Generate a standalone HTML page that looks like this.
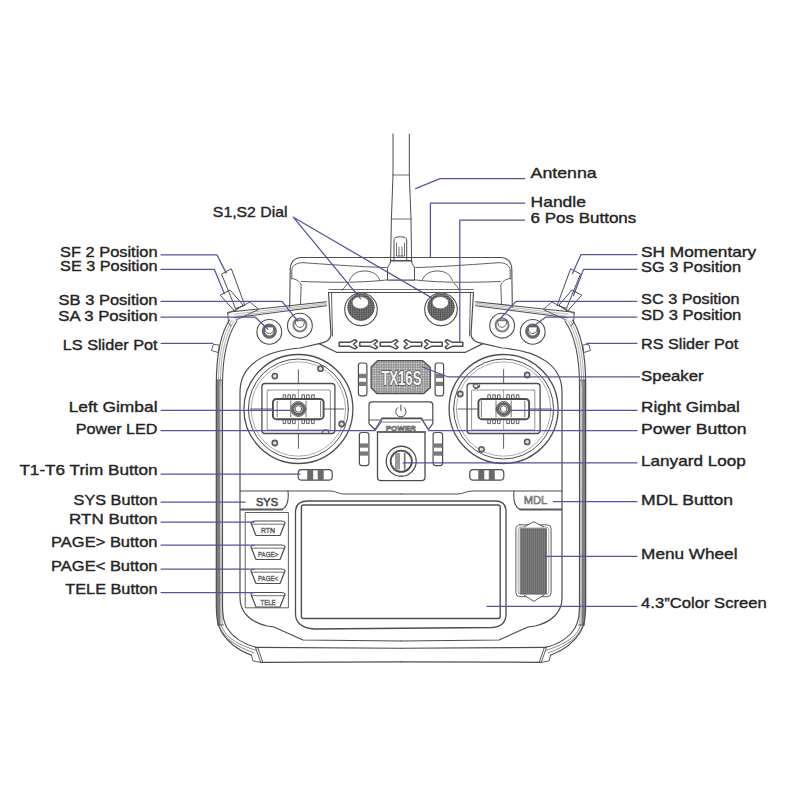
<!DOCTYPE html>
<html><head><meta charset="utf-8"><style>
html,body{margin:0;padding:0;background:#fff;width:800px;height:800px;overflow:hidden}
svg{display:block}
</style></head><body>
<svg width="800" height="800" viewBox="0 0 800 800" stroke-linejoin="round" stroke-linecap="round">
<defs>
<pattern id="dots" width="2.4" height="2.4" patternUnits="userSpaceOnUse"><rect width="2.4" height="2.4" fill="#8c8c8c"/><circle cx="1.2" cy="1.2" r="0.75" fill="#e0e0e0"/></pattern>
<pattern id="knurl" width="1.8" height="1.8" patternUnits="userSpaceOnUse"><rect width="1.8" height="1.8" fill="#555"/><rect width="0.8" height="0.8" fill="#aaa"/></pattern>
<pattern id="knurl2" width="2" height="2" patternUnits="userSpaceOnUse"><rect width="2" height="2" fill="#6a6a6a"/><rect width="0.6" height="2" fill="#8a8a8a"/></pattern>
<pattern id="strip" width="2" height="2" patternUnits="userSpaceOnUse"><rect width="2" height="2" fill="#6f6f6f"/><rect width="1" height="1" fill="#aaa"/></pattern>
</defs>
<rect width="800" height="800" fill="#fff"/>
<g><path d="M216.3,380 L222.5,380 L223.2,625 L217.4,625 L216.3,605 Z" fill="#c8c8c8" stroke="none"/><path d="M216.3,380 L219.6,380 L220.3,625 L217.4,625 L216.3,605 Z" fill="#7c7c7c" stroke="none"/><path d="M216.5,380 L222.5,380 M217.4,625 L223.4,625" fill="none" stroke="#4d4d4d" stroke-width="0.9" /><path d="M229.5,320 C221,333 216.3,352 216.3,385 L216.3,605 C216.5,620 218,625 221,631 C228,643 240,651 251.5,655.3" fill="none" stroke="#4d4d4d" stroke-width="1.2" /><path d="M231.8,320.5 C223.5,334 218.4,353 218.4,385" fill="none" stroke="#8a8a8a" stroke-width="0.7" /><path d="M234,321 C225.5,335 220.4,354 220.4,385" fill="none" stroke="#8a8a8a" stroke-width="0.7" /><path d="M237,321 C227.5,335 222.5,354 222.5,385 L222.5,605 C222.8,618 224,622 227,628 C234,639 245,645 258.4,647.8" fill="none" stroke="#4d4d4d" stroke-width="1.1" /><path d="M219.3,625 C221.5,633 229,644 253.8,652.8" fill="none" stroke="#6a6a6a" stroke-width="0.8" /><path d="M221.3,625 C224,634 232,643 256.1,650.3" fill="none" stroke="#6a6a6a" stroke-width="0.8" /><path d="M255.5,647.4 L401,648.3" fill="none" stroke="#4d4d4d" stroke-width="1.1" /><path d="M260.7,662.3 L401,661.8" fill="none" stroke="#4d4d4d" stroke-width="1.2" /><path d="M255.5,647.4 L260.7,662.3 M257.6,647.4 L262.8,662.3 M251.5,655.3 L252.9,661 L260.7,662.3" fill="none" stroke="#4d4d4d" stroke-width="0.9" /><path d="M227.7,312.3 L326.5,301.7" fill="none" stroke="#4d4d4d" stroke-width="1.1" /><path d="M234.3,317.8 L326.5,305.8" fill="none" stroke="#4d4d4d" stroke-width="1.1" /><path d="M234,314.2 L326.5,303.1 M236,316.0 L326.5,304.5" fill="none" stroke="#8a8a8a" stroke-width="0.6" /><path d="M227.7,312.7 L228.5,323 L231,326" fill="none" stroke="#4d4d4d" stroke-width="0.9" /><path d="M401,641 L303,640 L274,627 L267,626 C250,622 240,612 240,598 L240,392 C240,366 262,351 300,348 L319,343.6 C326,342.5 331,339.5 331,334 L328.5,292.5" fill="none" stroke="#4d4d4d" stroke-width="1.2" /><path d="M332.5,336 L331.5,293" fill="none" stroke="#4d4d4d" stroke-width="0.9" /><path d="M319,343.6 L336.5,352.3 L401,352.3" fill="none" stroke="#4d4d4d" stroke-width="1.2" /><path d="M328.5,292.5 L401,292.5" fill="none" stroke="#4d4d4d" stroke-width="1.1" /><path d="M329,289.5 L401,289.5" fill="none" stroke="#4d4d4d" stroke-width="0.8" /><path d="M401,257.5 L301.5,257.5 C295,257.5 290.2,262 290.2,269.5 L289.7,307" fill="none" stroke="#4d4d4d" stroke-width="1.1" /><path d="M291.8,279 L291.8,270 C292,266 296,262.7 303,262.7 C330,264.5 360,267 401,268" fill="none" stroke="#4d4d4d" stroke-width="0.9" /><path d="M291.8,278.5 C296.5,279 300,281.5 301.2,285 L300.5,304" fill="none" stroke="#4d4d4d" stroke-width="0.9" /><path d="M301.5,281.5 C330,282.5 360,283 386,280 L401,280" fill="none" stroke="#4d4d4d" stroke-width="0.9" /><path d="M349.5,280.5 C352,273.5 358,271 364.5,271 C371,271 377,273.5 379.5,279.5" fill="none" stroke="#4d4d4d" stroke-width="0.9" /><path d="M342,290.5 L348,283" fill="none" stroke="#4d4d4d" stroke-width="0.8" /><circle cx="269.30" cy="331.90" r="12.4" fill="none" stroke="#4d4d4d" stroke-width="1.1"/><circle cx="269.3" cy="331.09999999999997" r="6" fill="none" stroke="#6a6a6a" stroke-width="3.2"/><path d="M264.8,326.9 L273.8,326.9 L273.3,330.9 C272.3,334.4 266.3,334.4 265.3,330.9 Z" fill="#fff" stroke="#4d4d4d" stroke-width="0.9" /><circle cx="299.90" cy="325.70" r="12.4" fill="none" stroke="#4d4d4d" stroke-width="1.1"/><circle cx="299.9" cy="324.9" r="6.5" fill="none" stroke="#808080" stroke-width="2"/><path d="M295.4,320.7 L304.4,320.7 L303.9,324.7 C302.9,328.2 296.9,328.2 295.9,324.7 Z" fill="#fff" stroke="#4d4d4d" stroke-width="0.9" /><path d="M231,269 L221.5,274 L235.5,308.5 L244.5,305.5 Z" fill="none" stroke="#4d4d4d" stroke-width="1.0" /><path d="M220.6,295 L230,290 L243,305 L235,311 Z" fill="none" stroke="#4d4d4d" stroke-width="1.0" /><path d="M227.5,313.8 L250,302 L258.8,309.4 L236,320" fill="none" stroke="#4d4d4d" stroke-width="0.9" /><path d="M213.75,344.4 L219.4,345 L218.2,352.5 L211.9,350.6 Z" fill="none" stroke="#4d4d4d" stroke-width="0.9" /><rect x="358.40" y="363.00" width="8.50" height="32.80" rx="2.5" fill="none" stroke="#4d4d4d" stroke-width="1.2"/><rect x="359.0" y="373.8" width="7.3" height="4.3" fill="#7a7a7a"/><rect x="359.0" y="381.7" width="7.3" height="4.3" fill="#7a7a7a"/><rect x="359.40" y="432.50" width="9.50" height="33.10" rx="2.5" fill="none" stroke="#4d4d4d" stroke-width="1.2"/><rect x="360.0" y="443.4" width="8.3" height="4.3" fill="#7a7a7a"/><rect x="360.0" y="451.4" width="8.3" height="4.3" fill="#7a7a7a"/><rect x="298.20" y="469.60" width="34.00" height="10.60" rx="3.5" fill="none" stroke="#4d4d4d" stroke-width="1.2"/><rect x="307.2" y="469.6" width="6" height="10.6" fill="#6a6a6a"/><rect x="317.7" y="469.6" width="6" height="10.6" fill="#6a6a6a"/><path d="M339.2,342.3 L349.7,342.3 L355.0,339.7 L357.0,341.3 L353.5,344.3 L357.0,347.3 L355.0,348.9 L349.7,346.3 L339.2,346.3 Z" fill="none" stroke="#4d4d4d" stroke-width="1.5" /><path d="M359.8,342.3 L370.3,342.3 L375.6,339.7 L377.6,341.3 L374.1,344.3 L377.6,347.3 L375.6,348.9 L370.3,346.3 L359.8,346.3 Z" fill="none" stroke="#4d4d4d" stroke-width="1.5" /><path d="M380.2,342.3 L390.7,342.3 L396.0,339.7 L398.0,341.3 L394.5,344.3 L398.0,347.3 L396.0,348.9 L390.7,346.3 L380.2,346.3 Z" fill="none" stroke="#4d4d4d" stroke-width="1.5" /><circle cx="298.40" cy="409.00" r="54.5" fill="none" stroke="#4d4d4d" stroke-width="1.3"/><circle cx="298.40" cy="409.00" r="50" fill="none" stroke="#4d4d4d" stroke-width="1.0"/><circle cx="298.40" cy="409.00" r="47.2" fill="none" stroke="#8a8a8a" stroke-width="0.7"/><rect x="261.90" y="383.50" width="73.00" height="50.00" rx="3" fill="none" stroke="#4d4d4d" stroke-width="1.3"/><rect x="267.20" y="390.00" width="63.20" height="40.00" rx="1" fill="none" stroke="#777" stroke-width="0.8"/><path d="M298.4,390 L298.4,430" fill="none" stroke="#777" stroke-width="0.7" /><path d="M283.09999999999997,399 L283.09999999999997,394.8 L285.7,394.8 L285.7,399" fill="none" stroke="#4d4d4d" stroke-width="0.9" /><path d="M283.09999999999997,419 L283.09999999999997,423.6 L285.7,423.6 L285.7,419" fill="none" stroke="#4d4d4d" stroke-width="0.9" /><path d="M287.9,399 L287.9,394.8 L290.5,394.8 L290.5,399" fill="none" stroke="#4d4d4d" stroke-width="0.9" /><path d="M287.9,419 L287.9,423.6 L290.5,423.6 L290.5,419" fill="none" stroke="#4d4d4d" stroke-width="0.9" /><path d="M292.59999999999997,399 L292.59999999999997,394.8 L295.2,394.8 L295.2,399" fill="none" stroke="#4d4d4d" stroke-width="0.9" /><path d="M292.59999999999997,419 L292.59999999999997,423.6 L295.2,423.6 L295.2,419" fill="none" stroke="#4d4d4d" stroke-width="0.9" /><path d="M301.9,399 L301.9,394.8 L304.5,394.8 L304.5,399" fill="none" stroke="#4d4d4d" stroke-width="0.9" /><path d="M301.9,419 L301.9,423.6 L304.5,423.6 L304.5,419" fill="none" stroke="#4d4d4d" stroke-width="0.9" /><path d="M306.59999999999997,399 L306.59999999999997,394.8 L309.2,394.8 L309.2,399" fill="none" stroke="#4d4d4d" stroke-width="0.9" /><path d="M306.59999999999997,419 L306.59999999999997,423.6 L309.2,423.6 L309.2,419" fill="none" stroke="#4d4d4d" stroke-width="0.9" /><path d="M311.59999999999997,399 L311.59999999999997,394.8 L314.2,394.8 L314.2,399" fill="none" stroke="#4d4d4d" stroke-width="0.9" /><path d="M311.59999999999997,419 L311.59999999999997,423.6 L314.2,423.6 L314.2,419" fill="none" stroke="#4d4d4d" stroke-width="0.9" /><rect x="272.90" y="399.00" width="50.70" height="20.20" rx="3.5" fill="#fff" stroke="#4d4d4d" stroke-width="1.9"/><path d="M277.2,401.2 L277.2,417 M320.59999999999997,401.2 L320.59999999999997,417 M290.79999999999995,401 L290.79999999999995,417 M306.0,401 L306.0,417" fill="none" stroke="#666" stroke-width="0.9" /><circle cx="298.4" cy="409" r="7.4" fill="#fff" stroke="#555" stroke-width="1"/><circle cx="298.4" cy="409" r="5.5" fill="none" stroke="#666" stroke-width="2.8" stroke-dasharray="1.1,0.9"/><circle cx="298.40" cy="409.00" r="3.3" fill="none" stroke="#4d4d4d" stroke-width="0.9"/><path d="M298.4,369.7 L298.4,383.5 M298.4,433.5 L298.4,448.4 M250.59999999999997,409 L261.9,409 M261.9,409 L272.9,409 M323.59999999999997,409 L334.9,409 M334.9,409 L343.9,409" fill="none" stroke="#4d4d4d" stroke-width="0.9" /><path d="M240,491 L288,491 C289,500 286.5,507 282,509.5 L240,509.5" fill="none" stroke="#4d4d4d" stroke-width="1.1" /><path d="M241,509.5 L282,509.5" fill="none" stroke="#5a5a5a" stroke-width="1.8" /><path d="M288,491 L330,491 C336,491 338,494 345,494 L401,494" fill="none" stroke="#4d4d4d" stroke-width="1.0" /></g>
<g transform="translate(802.0,0) scale(-1,1)"><path d="M216.3,380 L222.5,380 L223.2,625 L217.4,625 L216.3,605 Z" fill="#c8c8c8" stroke="none"/><path d="M216.3,380 L219.6,380 L220.3,625 L217.4,625 L216.3,605 Z" fill="#7c7c7c" stroke="none"/><path d="M216.5,380 L222.5,380 M217.4,625 L223.4,625" fill="none" stroke="#4d4d4d" stroke-width="0.9" /><path d="M229.5,320 C221,333 216.3,352 216.3,385 L216.3,605 C216.5,620 218,625 221,631 C228,643 240,651 251.5,655.3" fill="none" stroke="#4d4d4d" stroke-width="1.2" /><path d="M231.8,320.5 C223.5,334 218.4,353 218.4,385" fill="none" stroke="#8a8a8a" stroke-width="0.7" /><path d="M234,321 C225.5,335 220.4,354 220.4,385" fill="none" stroke="#8a8a8a" stroke-width="0.7" /><path d="M237,321 C227.5,335 222.5,354 222.5,385 L222.5,605 C222.8,618 224,622 227,628 C234,639 245,645 258.4,647.8" fill="none" stroke="#4d4d4d" stroke-width="1.1" /><path d="M219.3,625 C221.5,633 229,644 253.8,652.8" fill="none" stroke="#6a6a6a" stroke-width="0.8" /><path d="M221.3,625 C224,634 232,643 256.1,650.3" fill="none" stroke="#6a6a6a" stroke-width="0.8" /><path d="M255.5,647.4 L401,648.3" fill="none" stroke="#4d4d4d" stroke-width="1.1" /><path d="M260.7,662.3 L401,661.8" fill="none" stroke="#4d4d4d" stroke-width="1.2" /><path d="M255.5,647.4 L260.7,662.3 M257.6,647.4 L262.8,662.3 M251.5,655.3 L252.9,661 L260.7,662.3" fill="none" stroke="#4d4d4d" stroke-width="0.9" /><path d="M227.7,312.3 L326.5,301.7" fill="none" stroke="#4d4d4d" stroke-width="1.1" /><path d="M234.3,317.8 L326.5,305.8" fill="none" stroke="#4d4d4d" stroke-width="1.1" /><path d="M234,314.2 L326.5,303.1 M236,316.0 L326.5,304.5" fill="none" stroke="#8a8a8a" stroke-width="0.6" /><path d="M227.7,312.7 L228.5,323 L231,326" fill="none" stroke="#4d4d4d" stroke-width="0.9" /><path d="M401,641 L303,640 L274,627 L267,626 C250,622 240,612 240,598 L240,392 C240,366 262,351 300,348 L319,343.6 C326,342.5 331,339.5 331,334 L328.5,292.5" fill="none" stroke="#4d4d4d" stroke-width="1.2" /><path d="M332.5,336 L331.5,293" fill="none" stroke="#4d4d4d" stroke-width="0.9" /><path d="M319,343.6 L336.5,352.3 L401,352.3" fill="none" stroke="#4d4d4d" stroke-width="1.2" /><path d="M328.5,292.5 L401,292.5" fill="none" stroke="#4d4d4d" stroke-width="1.1" /><path d="M329,289.5 L401,289.5" fill="none" stroke="#4d4d4d" stroke-width="0.8" /><path d="M401,257.5 L301.5,257.5 C295,257.5 290.2,262 290.2,269.5 L289.7,307" fill="none" stroke="#4d4d4d" stroke-width="1.1" /><path d="M291.8,279 L291.8,270 C292,266 296,262.7 303,262.7 C330,264.5 360,267 401,268" fill="none" stroke="#4d4d4d" stroke-width="0.9" /><path d="M291.8,278.5 C296.5,279 300,281.5 301.2,285 L300.5,304" fill="none" stroke="#4d4d4d" stroke-width="0.9" /><path d="M301.5,281.5 C330,282.5 360,283 386,280 L401,280" fill="none" stroke="#4d4d4d" stroke-width="0.9" /><path d="M349.5,280.5 C352,273.5 358,271 364.5,271 C371,271 377,273.5 379.5,279.5" fill="none" stroke="#4d4d4d" stroke-width="0.9" /><path d="M342,290.5 L348,283" fill="none" stroke="#4d4d4d" stroke-width="0.8" /><circle cx="269.30" cy="331.90" r="12.4" fill="none" stroke="#4d4d4d" stroke-width="1.1"/><circle cx="269.3" cy="331.09999999999997" r="6" fill="none" stroke="#6a6a6a" stroke-width="3.2"/><path d="M264.8,326.9 L273.8,326.9 L273.3,330.9 C272.3,334.4 266.3,334.4 265.3,330.9 Z" fill="#fff" stroke="#4d4d4d" stroke-width="0.9" /><circle cx="299.90" cy="325.70" r="12.4" fill="none" stroke="#4d4d4d" stroke-width="1.1"/><circle cx="299.9" cy="324.9" r="6.5" fill="none" stroke="#808080" stroke-width="2"/><path d="M295.4,320.7 L304.4,320.7 L303.9,324.7 C302.9,328.2 296.9,328.2 295.9,324.7 Z" fill="#fff" stroke="#4d4d4d" stroke-width="0.9" /><path d="M231,269 L221.5,274 L235.5,308.5 L244.5,305.5 Z" fill="none" stroke="#4d4d4d" stroke-width="1.0" /><path d="M220.6,295 L230,290 L243,305 L235,311 Z" fill="none" stroke="#4d4d4d" stroke-width="1.0" /><path d="M227.5,313.8 L250,302 L258.8,309.4 L236,320" fill="none" stroke="#4d4d4d" stroke-width="0.9" /><path d="M213.75,344.4 L219.4,345 L218.2,352.5 L211.9,350.6 Z" fill="none" stroke="#4d4d4d" stroke-width="0.9" /><rect x="358.40" y="363.00" width="8.50" height="32.80" rx="2.5" fill="none" stroke="#4d4d4d" stroke-width="1.2"/><rect x="359.0" y="373.8" width="7.3" height="4.3" fill="#7a7a7a"/><rect x="359.0" y="381.7" width="7.3" height="4.3" fill="#7a7a7a"/><rect x="359.40" y="432.50" width="9.50" height="33.10" rx="2.5" fill="none" stroke="#4d4d4d" stroke-width="1.2"/><rect x="360.0" y="443.4" width="8.3" height="4.3" fill="#7a7a7a"/><rect x="360.0" y="451.4" width="8.3" height="4.3" fill="#7a7a7a"/><rect x="298.20" y="469.60" width="34.00" height="10.60" rx="3.5" fill="none" stroke="#4d4d4d" stroke-width="1.2"/><rect x="307.2" y="469.6" width="6" height="10.6" fill="#6a6a6a"/><rect x="317.7" y="469.6" width="6" height="10.6" fill="#6a6a6a"/><path d="M339.2,342.3 L349.7,342.3 L355.0,339.7 L357.0,341.3 L353.5,344.3 L357.0,347.3 L355.0,348.9 L349.7,346.3 L339.2,346.3 Z" fill="none" stroke="#4d4d4d" stroke-width="1.5" /><path d="M359.8,342.3 L370.3,342.3 L375.6,339.7 L377.6,341.3 L374.1,344.3 L377.6,347.3 L375.6,348.9 L370.3,346.3 L359.8,346.3 Z" fill="none" stroke="#4d4d4d" stroke-width="1.5" /><path d="M380.2,342.3 L390.7,342.3 L396.0,339.7 L398.0,341.3 L394.5,344.3 L398.0,347.3 L396.0,348.9 L390.7,346.3 L380.2,346.3 Z" fill="none" stroke="#4d4d4d" stroke-width="1.5" /><circle cx="298.40" cy="409.00" r="54.5" fill="none" stroke="#4d4d4d" stroke-width="1.3"/><circle cx="298.40" cy="409.00" r="50" fill="none" stroke="#4d4d4d" stroke-width="1.0"/><circle cx="298.40" cy="409.00" r="47.2" fill="none" stroke="#8a8a8a" stroke-width="0.7"/><rect x="261.90" y="383.50" width="73.00" height="50.00" rx="3" fill="none" stroke="#4d4d4d" stroke-width="1.3"/><rect x="267.20" y="390.00" width="63.20" height="40.00" rx="1" fill="none" stroke="#777" stroke-width="0.8"/><path d="M298.4,390 L298.4,430" fill="none" stroke="#777" stroke-width="0.7" /><path d="M283.09999999999997,399 L283.09999999999997,394.8 L285.7,394.8 L285.7,399" fill="none" stroke="#4d4d4d" stroke-width="0.9" /><path d="M283.09999999999997,419 L283.09999999999997,423.6 L285.7,423.6 L285.7,419" fill="none" stroke="#4d4d4d" stroke-width="0.9" /><path d="M287.9,399 L287.9,394.8 L290.5,394.8 L290.5,399" fill="none" stroke="#4d4d4d" stroke-width="0.9" /><path d="M287.9,419 L287.9,423.6 L290.5,423.6 L290.5,419" fill="none" stroke="#4d4d4d" stroke-width="0.9" /><path d="M292.59999999999997,399 L292.59999999999997,394.8 L295.2,394.8 L295.2,399" fill="none" stroke="#4d4d4d" stroke-width="0.9" /><path d="M292.59999999999997,419 L292.59999999999997,423.6 L295.2,423.6 L295.2,419" fill="none" stroke="#4d4d4d" stroke-width="0.9" /><path d="M301.9,399 L301.9,394.8 L304.5,394.8 L304.5,399" fill="none" stroke="#4d4d4d" stroke-width="0.9" /><path d="M301.9,419 L301.9,423.6 L304.5,423.6 L304.5,419" fill="none" stroke="#4d4d4d" stroke-width="0.9" /><path d="M306.59999999999997,399 L306.59999999999997,394.8 L309.2,394.8 L309.2,399" fill="none" stroke="#4d4d4d" stroke-width="0.9" /><path d="M306.59999999999997,419 L306.59999999999997,423.6 L309.2,423.6 L309.2,419" fill="none" stroke="#4d4d4d" stroke-width="0.9" /><path d="M311.59999999999997,399 L311.59999999999997,394.8 L314.2,394.8 L314.2,399" fill="none" stroke="#4d4d4d" stroke-width="0.9" /><path d="M311.59999999999997,419 L311.59999999999997,423.6 L314.2,423.6 L314.2,419" fill="none" stroke="#4d4d4d" stroke-width="0.9" /><rect x="272.90" y="399.00" width="50.70" height="20.20" rx="3.5" fill="#fff" stroke="#4d4d4d" stroke-width="1.9"/><path d="M277.2,401.2 L277.2,417 M320.59999999999997,401.2 L320.59999999999997,417 M290.79999999999995,401 L290.79999999999995,417 M306.0,401 L306.0,417" fill="none" stroke="#666" stroke-width="0.9" /><circle cx="298.4" cy="409" r="7.4" fill="#fff" stroke="#555" stroke-width="1"/><circle cx="298.4" cy="409" r="5.5" fill="none" stroke="#666" stroke-width="2.8" stroke-dasharray="1.1,0.9"/><circle cx="298.40" cy="409.00" r="3.3" fill="none" stroke="#4d4d4d" stroke-width="0.9"/><path d="M298.4,369.7 L298.4,383.5 M298.4,433.5 L298.4,448.4 M250.59999999999997,409 L261.9,409 M261.9,409 L272.9,409 M323.59999999999997,409 L334.9,409 M334.9,409 L343.9,409" fill="none" stroke="#4d4d4d" stroke-width="0.9" /><path d="M240,491 L288,491 C289,500 286.5,507 282,509.5 L240,509.5" fill="none" stroke="#4d4d4d" stroke-width="1.1" /><path d="M241,509.5 L282,509.5" fill="none" stroke="#5a5a5a" stroke-width="1.8" /><path d="M288,491 L330,491 C336,491 338,494 345,494 L401,494" fill="none" stroke="#4d4d4d" stroke-width="1.0" /></g>
<circle cx="274.80" cy="376.10" r="2.6" fill="#ddd" stroke="#5a5a5a" stroke-width="1.6"/><circle cx="527.20" cy="441.90" r="2.6" fill="#ddd" stroke="#5a5a5a" stroke-width="1.6"/><circle cx="320.50" cy="368.70" r="2.6" fill="#ddd" stroke="#5a5a5a" stroke-width="1.6"/><circle cx="481.50" cy="449.30" r="2.6" fill="#ddd" stroke="#5a5a5a" stroke-width="1.6"/><circle cx="341.70" cy="424.00" r="2.6" fill="#ddd" stroke="#5a5a5a" stroke-width="1.6"/><circle cx="460.30" cy="394.00" r="2.6" fill="#ddd" stroke="#5a5a5a" stroke-width="1.6"/><circle cx="274.80" cy="443.00" r="2.6" fill="#ddd" stroke="#5a5a5a" stroke-width="1.6"/><circle cx="527.20" cy="375.00" r="2.6" fill="#ddd" stroke="#5a5a5a" stroke-width="1.6"/><path d="M322.3,433.2 A3.3,3.3 0 0 1 328.9,433.2" fill="none" stroke="#4d4d4d" stroke-width="1.1" /><path d="M479.7,384.8 A3.3,3.3 0 0 1 473.1,384.8" fill="none" stroke="#4d4d4d" stroke-width="1.1" /><circle cx="475.90" cy="386.30" r="2.3" fill="none" stroke="#4d4d4d" stroke-width="0.9"/><circle cx="361.00" cy="309.30" r="16.3" fill="none" stroke="#4d4d4d" stroke-width="1.1"/><circle cx="361" cy="307.2" r="13.3" fill="url(#knurl)" stroke="#555" stroke-width="0.8"/><ellipse cx="360.4" cy="302.7" rx="8.3" ry="6.2" fill="#fff" stroke="#666" stroke-width="0.8"/><circle cx="441.00" cy="309.30" r="16.3" fill="none" stroke="#4d4d4d" stroke-width="1.1"/><circle cx="441" cy="307.2" r="13.3" fill="url(#knurl)" stroke="#555" stroke-width="0.8"/><ellipse cx="440.4" cy="302.7" rx="8.3" ry="6.2" fill="#fff" stroke="#666" stroke-width="0.8"/><path d="M377.4,360.7 L422.8,360.7 L430.3,367.6 L430.3,387.8 L423.8,393.5 L376.8,393.5 L371.1,387.8 L371.1,367 Z" fill="url(#dots)" stroke="#505050" stroke-width="1.3"/><text x="0" y="0" text-anchor="middle" font-family="Liberation Sans" font-size="20" font-weight="bold" fill="#f6f6f6" stroke="#505050" stroke-width="1.7" paint-order="stroke" transform="translate(401.3,385.3) scale(0.66,0.98)">TX16S</text><path d="M372,401.9 L429.8,401.9 C431.8,401.9 432.8,403 432.8,405 L432.8,423.7 L428.5,429.5 M369,423.7 L369,405 C369,403 370,401.9 372,401.9 M369,423.7 L374.9,429.5" fill="none" stroke="#4d4d4d" stroke-width="1.2" /><path d="M369,420 L381.8,420 M421.6,420 L432.8,420" fill="none" stroke="#4d4d4d" stroke-width="0.9" /><path d="M381.8,418.4 L421.6,418.4" fill="none" stroke="#4d4d4d" stroke-width="1.8" /><path d="M383,422.1 L420.5,422.1" fill="none" stroke="#4d4d4d" stroke-width="0.7" /><path d="M381.8,418.4 L374.9,429.5 M421.6,418.4 L428.5,429.5" fill="none" stroke="#4d4d4d" stroke-width="1.0" /><path d="M397.6,407.6 A5.2,5.2 0 1 0 404.2,407.6 M400.9,405 L400.9,410.5" fill="none" stroke="#4d4d4d" stroke-width="1.0" /><text x="400.7" y="431" text-anchor="middle" font-family="Liberation Sans" font-size="8" font-weight="bold" fill="#fff" stroke="#555" stroke-width="0.7" textLength="30" lengthAdjust="spacingAndGlyphs">POWER</text><path d="M377.5,431.9 L377.5,477.5 C377.5,479.5 379,480.6 381,480.6 L421.5,480.6 C423.5,480.6 425,479.5 425,477.5 L425,431.9" fill="none" stroke="#4d4d4d" stroke-width="1.3" /><path d="M377.5,432 L425,432" fill="none" stroke="#666" stroke-width="1.8" /><circle cx="401.25" cy="461.25" r="15" fill="none" stroke="#4d4d4d" stroke-width="1.3"/><circle cx="401.25" cy="461.25" r="10.6" fill="none" stroke="#4d4d4d" stroke-width="1.8"/><rect x="395" y="453" width="5" height="16.5" fill="#9a9a9a"/><rect x="403.8" y="453" width="1.8" height="16.5" fill="#777"/><rect x="245.60" y="512.50" width="42.80" height="95.30" rx="0" fill="none" stroke="#4d4d4d" stroke-width="0.9"/><path d="M251,523 C251,521.3 252.5,521 255,521 L281,521 C283.5,521 285,521.3 285,523 L280,535.5 L256,535.5 Z" fill="none" stroke="#4d4d4d" stroke-width="1.2" /><path d="M252,524.2 L284,524.2" fill="none" stroke="#4d4d4d" stroke-width="0.8" /><text x="268" y="533" text-anchor="middle" font-family="Liberation Sans" font-size="7" fill="#eee" stroke="#555" stroke-width="0.5" textLength="14" lengthAdjust="spacingAndGlyphs">RTN</text><path d="M251,547 C251,545.3 252.5,545 255,545 L281,545 C283.5,545 285,545.3 285,547 L280,559.5 L256,559.5 Z" fill="none" stroke="#4d4d4d" stroke-width="1.2" /><path d="M252,548.2 L284,548.2" fill="none" stroke="#4d4d4d" stroke-width="0.8" /><text x="268" y="557" text-anchor="middle" font-family="Liberation Sans" font-size="7" fill="#eee" stroke="#555" stroke-width="0.5" textLength="20" lengthAdjust="spacingAndGlyphs">PAGE&gt;</text><path d="M251,571 C251,569.3 252.5,569 255,569 L281,569 C283.5,569 285,569.3 285,571 L280,583.5 L256,583.5 Z" fill="none" stroke="#4d4d4d" stroke-width="1.2" /><path d="M252,572.2 L284,572.2" fill="none" stroke="#4d4d4d" stroke-width="0.8" /><text x="268" y="581" text-anchor="middle" font-family="Liberation Sans" font-size="7" fill="#eee" stroke="#555" stroke-width="0.5" textLength="20" lengthAdjust="spacingAndGlyphs">PAGE&lt;</text><path d="M251,594.5 C251,592.8 252.5,592.5 255,592.5 L281,592.5 C283.5,592.5 285,592.8 285,594.5 L280,607.0 L256,607.0 Z" fill="none" stroke="#4d4d4d" stroke-width="1.2" /><path d="M252,595.7 L284,595.7" fill="none" stroke="#4d4d4d" stroke-width="0.8" /><text x="268" y="604.5" text-anchor="middle" font-family="Liberation Sans" font-size="7" fill="#eee" stroke="#555" stroke-width="0.5" textLength="15" lengthAdjust="spacingAndGlyphs">TELE</text><path d="M295.5,512 C295.5,504.5 300,501 308,501 L495,501 C502.5,501 506,504.5 506,511 L506,614 C506,622 501,627 492,627.5 L314.5,629 C301.5,628.5 295.5,622 295.5,614 Z" fill="none" stroke="#4d4d4d" stroke-width="1.3" /><rect x="301.40" y="505.00" width="198.80" height="113.50" rx="2" fill="none" stroke="#4d4d4d" stroke-width="1.4"/><text x="267" y="505.5" text-anchor="middle" font-family="Liberation Sans" font-size="11.5" fill="#4a4a4a" stroke="#4a4a4a" stroke-width="0.6" textLength="22" lengthAdjust="spacingAndGlyphs">SYS</text><text x="535.5" y="504" text-anchor="middle" font-family="Liberation Sans" font-size="10.5" fill="#e8e8e8" stroke="#5a5a5a" stroke-width="0.55" textLength="23.5" lengthAdjust="spacingAndGlyphs">MDL</text><rect x="515.90" y="524.80" width="35.20" height="71.90" rx="4" fill="none" stroke="#4d4d4d" stroke-width="0.9"/><rect x="518.20" y="527.00" width="30.60" height="67.50" rx="3" fill="none" stroke="#8a8a8a" stroke-width="0.7"/><rect x="520.6" y="528.75" width="25.8" height="64.85" fill="url(#knurl2)" stroke="#505050" stroke-width="0.8"/><path d="M524,527 L533.9,521.7 L543.8,527 M524,595 L533.9,601.4 L543.8,595" fill="#fff" stroke="#4d4d4d" stroke-width="0.9" /><path d="M393,134 L393,175 L391.4,219 L390.6,262 M409.3,134 L409.3,175 L411,219 L411.6,262" fill="none" stroke="#4d4d4d" stroke-width="1.0" /><path d="M393,175 L409.3,175 M391.4,219 L411,219" fill="none" stroke="#4d4d4d" stroke-width="0.8" /><path d="M394,261 L394,240 C394,237.5 397,236.8 400.5,236.8 C404,236.8 406.7,237.5 406.7,240 L406.7,261" fill="none" stroke="#4d4d4d" stroke-width="1.0" /><path d="M396.5,243 L396.5,256 L404.5,256 L404.5,243 M399,247 L399,256 M402,247 L402,256" fill="none" stroke="#4d4d4d" stroke-width="0.8" /><path d="M390.6,261 C390.6,265 387.5,265.5 387.5,268.5 L387.5,280 L414.5,280 L414.5,268.5 C414.5,265.5 411.6,265 411.6,261 Z" fill="#fff" stroke="#4d4d4d" stroke-width="1.0" /><path d="M390.6,261 L411.6,261" fill="none" stroke="#4d4d4d" stroke-width="0.9" />
<path d="M415.6,188.6 L440,178.7 L524.6,178.7" fill="none" stroke="#50579c" stroke-width="1.25"/><path d="M430.4,257 L430.4,203 L524.6,203" fill="none" stroke="#50579c" stroke-width="1.25"/><path d="M459.8,341 L459.8,220.1 L524.6,220.1" fill="none" stroke="#50579c" stroke-width="1.25"/><path d="M293.3,217.2 L360.5,298.6 M293.3,217.2 L433,298.6" fill="none" stroke="#50579c" stroke-width="1.25"/><path d="M161,254.75 L216.9,254.75 L226.25,273.1" fill="none" stroke="#50579c" stroke-width="1.25"/><path d="M161,269.4 L214.4,269.4 L224.4,293.75" fill="none" stroke="#50579c" stroke-width="1.25"/><path d="M161,301.3 L282,301.3 L297.6,320.9" fill="none" stroke="#50579c" stroke-width="1.25"/><path d="M161,317.2 L255.4,317.2 L267.6,329" fill="none" stroke="#50579c" stroke-width="1.25"/><path d="M161,343.3 L213,343.3" fill="none" stroke="#50579c" stroke-width="1.25"/><path d="M161,410.3 L290,410.3" fill="none" stroke="#50579c" stroke-width="1.25"/><path d="M161,430.6 L374.9,430.6 L381.8,421" fill="none" stroke="#50579c" stroke-width="1.25"/><path d="M161,474 L300,474" fill="none" stroke="#50579c" stroke-width="1.25"/><path d="M161,502 L245,502" fill="none" stroke="#50579c" stroke-width="1.25"/><path d="M161,522.2 L254,522.2" fill="none" stroke="#50579c" stroke-width="1.25"/><path d="M161,545 L254,545" fill="none" stroke="#50579c" stroke-width="1.25"/><path d="M161,569 L254,569" fill="none" stroke="#50579c" stroke-width="1.25"/><path d="M161,592.5 L254,592.5" fill="none" stroke="#50579c" stroke-width="1.25"/><path d="M637,254.6 L581,254.6 L572.5,273.5" fill="none" stroke="#50579c" stroke-width="1.25"/><path d="M637,269.4 L583.5,269.4 L573.5,295.5" fill="none" stroke="#50579c" stroke-width="1.25"/><path d="M637,301.3 L516,301.3 L500.5,318.5" fill="none" stroke="#50579c" stroke-width="1.25"/><path d="M637,317.1 L546,317.1 L533.5,326" fill="none" stroke="#50579c" stroke-width="1.25"/><path d="M637,343.3 L586.6,343.3" fill="none" stroke="#50579c" stroke-width="1.25"/><path d="M639.6,376.75 L447.5,376.75 L422.75,367" fill="none" stroke="#50579c" stroke-width="1.25"/><path d="M637,410.4 L510,410.4" fill="none" stroke="#50579c" stroke-width="1.25"/><path d="M637,430.6 L429,430.6 L422.2,420" fill="none" stroke="#50579c" stroke-width="1.25"/><path d="M637,462.9 L403.1,462.9" fill="none" stroke="#50579c" stroke-width="1.25"/><path d="M637,501.7 L553.4,501.7" fill="none" stroke="#50579c" stroke-width="1.25"/><path d="M637,556.4 L544.8,556.4" fill="none" stroke="#50579c" stroke-width="1.25"/><path d="M637,606.3 L487,606.3" fill="none" stroke="#50579c" stroke-width="1.25"/>
<text x="60.10" y="256.5" font-family="Liberation Sans" font-size="15" fill="#242424" stroke="#242424" stroke-width="0.38" textLength="97.45" lengthAdjust="spacingAndGlyphs">SF 2 Position</text><text x="60.10" y="271.2" font-family="Liberation Sans" font-size="15" fill="#242424" stroke="#242424" stroke-width="0.38" textLength="97.45" lengthAdjust="spacingAndGlyphs">SE 3 Position</text><text x="58.60" y="304.5" font-family="Liberation Sans" font-size="15" fill="#242424" stroke="#242424" stroke-width="0.38" textLength="98.95" lengthAdjust="spacingAndGlyphs">SB 3 Position</text><text x="58.30" y="320.7" font-family="Liberation Sans" font-size="15" fill="#242424" stroke="#242424" stroke-width="0.38" textLength="99.25" lengthAdjust="spacingAndGlyphs">SA 3 Position</text><text x="62.80" y="349.5" font-family="Liberation Sans" font-size="15" fill="#242424" stroke="#242424" stroke-width="0.38" textLength="94.75" lengthAdjust="spacingAndGlyphs">LS Slider Pot</text><text x="68.70" y="411.9" font-family="Liberation Sans" font-size="15" fill="#242424" stroke="#242424" stroke-width="0.38" textLength="88.85" lengthAdjust="spacingAndGlyphs">Left Gimbal</text><text x="75.70" y="434" font-family="Liberation Sans" font-size="15" fill="#242424" stroke="#242424" stroke-width="0.38" textLength="81.85" lengthAdjust="spacingAndGlyphs">Power LED</text><text x="19.40" y="474.7" font-family="Liberation Sans" font-size="15" fill="#242424" stroke="#242424" stroke-width="0.38" textLength="138.15" lengthAdjust="spacingAndGlyphs">T1-T6 Trim Button</text><text x="73.60" y="504.8" font-family="Liberation Sans" font-size="15" fill="#242424" stroke="#242424" stroke-width="0.38" textLength="83.95" lengthAdjust="spacingAndGlyphs">SYS Button</text><text x="69.10" y="524.3" font-family="Liberation Sans" font-size="15" fill="#242424" stroke="#242424" stroke-width="0.38" textLength="88.45" lengthAdjust="spacingAndGlyphs">RTN Button</text><text x="51.10" y="547.2" font-family="Liberation Sans" font-size="15" fill="#242424" stroke="#242424" stroke-width="0.38" textLength="106.45" lengthAdjust="spacingAndGlyphs">PAGE&gt; Button</text><text x="51.10" y="570.5" font-family="Liberation Sans" font-size="15" fill="#242424" stroke="#242424" stroke-width="0.38" textLength="106.45" lengthAdjust="spacingAndGlyphs">PAGE&lt; Button</text><text x="65.35" y="593.75" font-family="Liberation Sans" font-size="15" fill="#242424" stroke="#242424" stroke-width="0.38" textLength="92.20" lengthAdjust="spacingAndGlyphs">TELE Button</text><text x="641.10" y="256.6" font-family="Liberation Sans" font-size="15" fill="#242424" stroke="#242424" stroke-width="0.38" textLength="115.10" lengthAdjust="spacingAndGlyphs">SH Momentary</text><text x="641.10" y="271.9" font-family="Liberation Sans" font-size="15" fill="#242424" stroke="#242424" stroke-width="0.38" textLength="99.90" lengthAdjust="spacingAndGlyphs">SG 3 Position</text><text x="641.10" y="303.9" font-family="Liberation Sans" font-size="15" fill="#242424" stroke="#242424" stroke-width="0.38" textLength="98.45" lengthAdjust="spacingAndGlyphs">SC 3 Position</text><text x="641.10" y="319.6" font-family="Liberation Sans" font-size="15" fill="#242424" stroke="#242424" stroke-width="0.38" textLength="100.20" lengthAdjust="spacingAndGlyphs">SD 3 Position</text><text x="641.10" y="349.4" font-family="Liberation Sans" font-size="15" fill="#242424" stroke="#242424" stroke-width="0.38" textLength="97.10" lengthAdjust="spacingAndGlyphs">RS Slider Pot</text><text x="641.10" y="380.65" font-family="Liberation Sans" font-size="15" fill="#242424" stroke="#242424" stroke-width="0.38" textLength="62.60" lengthAdjust="spacingAndGlyphs">Speaker</text><text x="641.10" y="411.6" font-family="Liberation Sans" font-size="15" fill="#242424" stroke="#242424" stroke-width="0.38" textLength="98.80" lengthAdjust="spacingAndGlyphs">Right Gimbal</text><text x="641.10" y="433.5" font-family="Liberation Sans" font-size="15" fill="#242424" stroke="#242424" stroke-width="0.38" textLength="105.45" lengthAdjust="spacingAndGlyphs">Power Button</text><text x="641.10" y="465.9" font-family="Liberation Sans" font-size="15" fill="#242424" stroke="#242424" stroke-width="0.38" textLength="104.60" lengthAdjust="spacingAndGlyphs">Lanyard Loop</text><text x="641.10" y="505.1" font-family="Liberation Sans" font-size="15" fill="#242424" stroke="#242424" stroke-width="0.38" textLength="91.80" lengthAdjust="spacingAndGlyphs">MDL Button</text><text x="641.10" y="559.4" font-family="Liberation Sans" font-size="15" fill="#242424" stroke="#242424" stroke-width="0.38" textLength="96.40" lengthAdjust="spacingAndGlyphs">Menu Wheel</text><text x="641.10" y="608.4" font-family="Liberation Sans" font-size="15" fill="#242424" stroke="#242424" stroke-width="0.38" textLength="125.60" lengthAdjust="spacingAndGlyphs">4.3”Color Screen</text><text x="530.60" y="178.4" font-family="Liberation Sans" font-size="15" fill="#242424" stroke="#242424" stroke-width="0.38" textLength="66.10" lengthAdjust="spacingAndGlyphs">Antenna</text><text x="530.60" y="206.6" font-family="Liberation Sans" font-size="15" fill="#242424" stroke="#242424" stroke-width="0.38" textLength="55.30" lengthAdjust="spacingAndGlyphs">Handle</text><text x="530.60" y="222.5" font-family="Liberation Sans" font-size="15" fill="#242424" stroke="#242424" stroke-width="0.38" textLength="105.70" lengthAdjust="spacingAndGlyphs">6 Pos Buttons</text><text x="212.85" y="216.9" font-family="Liberation Sans" font-size="15" fill="#242424" stroke="#242424" stroke-width="0.38" textLength="74.70" lengthAdjust="spacingAndGlyphs">S1,S2 Dial</text>
</svg>
</body></html>
